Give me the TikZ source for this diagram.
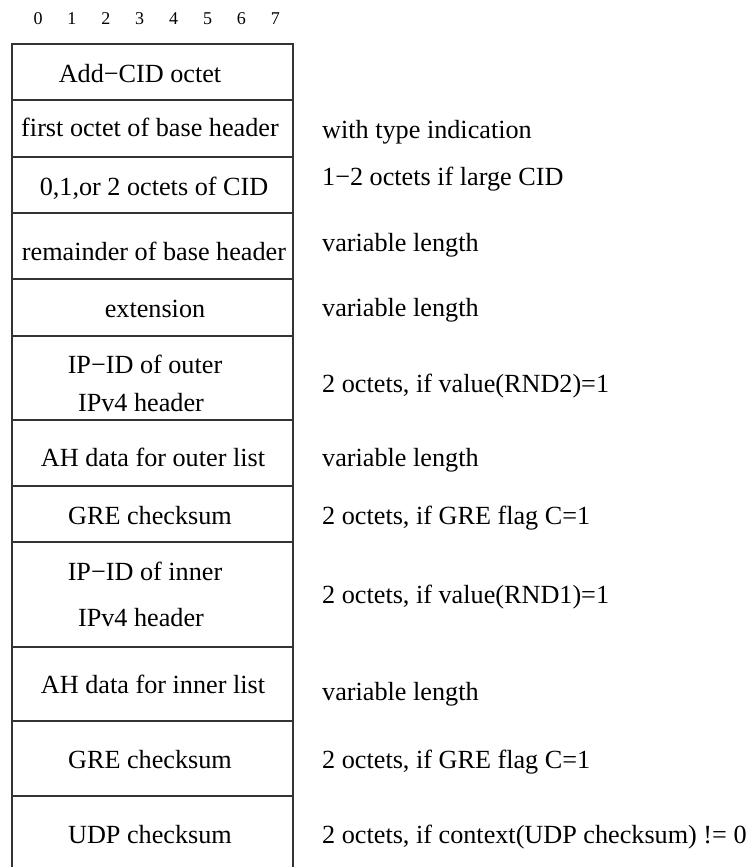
\documentclass[tikz,border=0pt]{standalone}
\usepackage{fontspec}
\setmainfont{Liberation Serif}
\tikzset{
  txt/.style={anchor=base, inner sep=0pt, font=\fontsize{26.2}{30}\selectfont},
  rtxt/.style={anchor=base west, inner sep=0pt, font=\fontsize{26.2}{30}\selectfont},
  dig/.style={anchor=base, inner sep=0pt, font=\fontsize{18}{21}\selectfont},
  rule/.style={draw=black!80, line width=1.1pt},
}
\begin{document}
\begin{tikzpicture}[x=1pt,y=-1pt]
\useasboundingbox (0,0) rectangle (750,867);
% bit numbers
\foreach \i in {0,...,7} {
  \node[dig] (d\i) at ({38+33.9*\i},25) {\i};
}
% box outline
\coordinate (tl) at (12,44);
\coordinate (tr) at (293,44);
\coordinate (bl) at (12,867);
\coordinate (br) at (293,867);
\draw[rule] (bl) -- (tl) -- (tr) -- (br);
\foreach \y [count=\k] in {100,157,213,279,336,420,486,542,647,721,796} {
  \coordinate (hl\k) at (12,\y);
  \coordinate (hr\k) at (293,\y);
  \draw[rule] (hl\k) -- (hr\k);
}
% field texts
\node[txt] (f1) at (140,82) {Add−CID octet};
\node[txt] (f2) at (150,136) {first octet of base header};
\node[txt] (f3) at (154,195) {0,1,or 2 octets of CID};
\node[txt] (f4) at (154,260) {remainder of base header};
\node[txt] (f5) at (155,317) {extension};
\node[txt] (f6a) at (145,373) {IP−ID of outer};
\node[txt] (f6b) at (141,411) {IPv4 header};
\node[txt] (f7) at (153,466) {AH data for outer list};
\node[txt] (f8) at (150,524) {GRE checksum};
\node[txt] (f9a) at (145,580) {IP−ID of inner};
\node[txt] (f9b) at (141,626) {IPv4 header};
\node[txt] (f10) at (153,693) {AH data for inner list};
\node[txt] (f11) at (150,768) {GRE checksum};
\node[txt] (f12) at (150,843) {UDP checksum};
% comments
\node[rtxt] (c2) at (322,138) {with type indication};
\node[rtxt] (c3) at (322,185) {1−2 octets if large CID};
\node[rtxt] (c4) at (322,251) {variable length};
\node[rtxt] (c5) at (322,316) {variable length};
\node[rtxt] (c6) at (322,392) {2 octets, if value(RND2)=1};
\node[rtxt] (c7) at (322,466) {variable length};
\node[rtxt] (c8) at (322,524) {2 octets, if GRE flag C=1};
\node[rtxt] (c9) at (322,603) {2 octets, if value(RND1)=1};
\node[rtxt] (c10) at (322,700) {variable length};
\node[rtxt] (c11) at (322,768) {2 octets, if GRE flag C=1};
\node[rtxt] (c12) at (322,843) {2 octets, if context(UDP checksum) != 0};
\end{tikzpicture}
\end{document}
